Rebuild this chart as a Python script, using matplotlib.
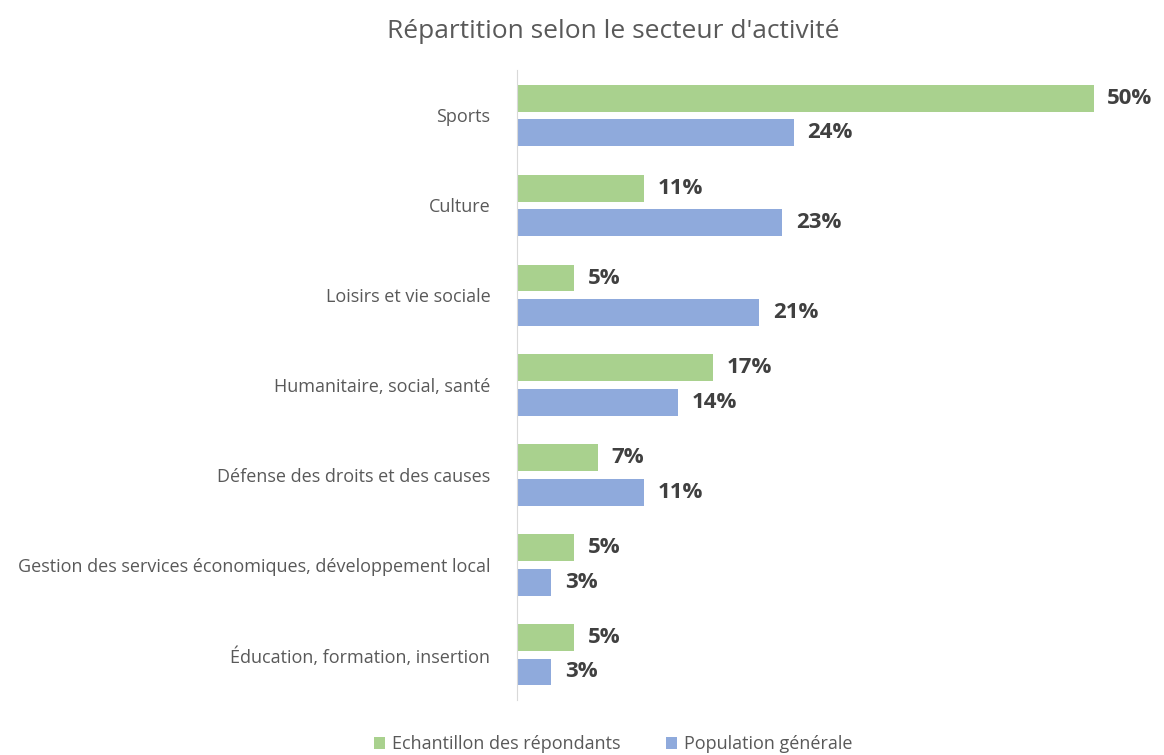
import numpy as np
import matplotlib.pyplot as plt

plt.rcParams['font.family'] = ['Open Sans', 'DejaVu Sans']

# --- DONNÉES ---
categories = ["Sports", "Culture", "Loisirs et vie sociale", "Humanitaire, social, santé",
              "Défense des droits et des causes",
              "Gestion des services économiques, développement local",
              "Éducation, formation, insertion"]
echantillon = [50, 11, 5, 17, 7, 5, 5]
population = [24, 23, 21, 14, 11, 3, 3]
series_labels = ["Echantillon des répondants", "Population générale"]

GREEN = "#A9D18E"
BLUE = "#8FAADC"
TXT = "#595959"

fig = plt.figure(figsize=(11.64, 7.55), dpi=100)
ax = fig.add_axes([0.444, 0.073, 0.545, 0.834])

y = np.arange(len(categories))
h = 0.30
off = 0.19
b1 = ax.barh(y - off, echantillon, height=h, color=GREEN, label=series_labels[0])
b2 = ax.barh(y + off, population, height=h, color=BLUE, label=series_labels[1])

for bars, vals in [(b1, echantillon), (b2, population)]:
    for rect, v in zip(bars, vals):
        ax.text(rect.get_width() + 1.2, rect.get_y() + rect.get_height() / 2, f"{v}%",
                va="center", ha="left", fontsize=16, fontweight="bold", color="#404040")

ax.set_ylim(len(categories) - 0.5, -0.5)
ax.set_xlim(0, 55)
ax.set_yticks(y)
ax.set_yticklabels(categories, fontsize=13, color=TXT)
ax.tick_params(axis="y", length=0, pad=19)
ax.set_xticks([])
for s in ["top", "right", "bottom"]:
    ax.spines[s].set_visible(False)
ax.spines["left"].set_color("#D9D9D9")

fig.suptitle("Répartition selon le secteur d'activité", x=0.527, y=0.975, fontsize=19, color=TXT)

fig.legend(handles=[b1, b2], labels=series_labels, loc="center", bbox_to_anchor=(0.527, 0.014),
           ncol=2, frameon=False, fontsize=13, labelcolor=TXT, handlelength=0.6, handleheight=0.6,
           handletextpad=0.4, columnspacing=2.5)

plt.savefig("out.png", dpi=100)
